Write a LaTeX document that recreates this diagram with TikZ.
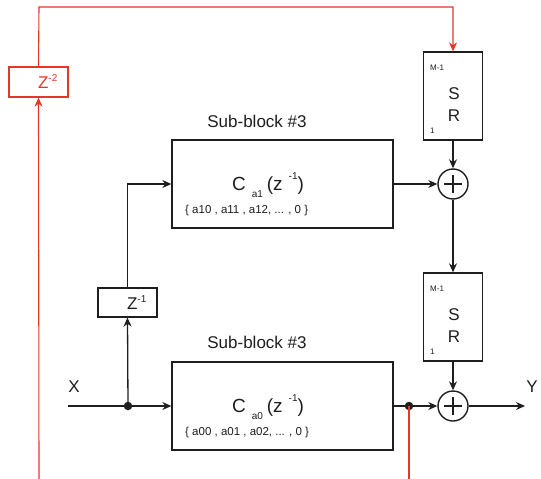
\documentclass[tikz,border=0pt]{standalone}
\usepackage{fontspec}
\setmainfont{Liberation Sans}
\usetikzlibrary{arrows.meta}
\definecolor{fbred}{RGB}{228,54,42}
\definecolor{lineblk}{RGB}{30,30,30}
\tikzset{
  blk/.style={draw=lineblk,line width=1.3pt,rectangle,inner sep=0pt},
  redblk/.style={draw=fbred,line width=1.3pt,rectangle,inner sep=0pt},
  wire/.style={draw=lineblk,line width=1.3pt},
  redwire/.style={draw=fbred,line width=1.1pt},
  arr/.style={-{Stealth[length=9pt,width=8pt]}},
  sumnode/.style={draw=lineblk,line width=1.4pt,circle,minimum size=30pt,inner sep=0pt},
  dotnode/.style={fill=lineblk,circle,minimum size=8.5pt,inner sep=0pt},
  bigtxt/.style={font=\fontsize{17}{19}\selectfont,inner sep=0pt},
  midtxt/.style={font=\fontsize{17}{19}\selectfont,inner sep=0pt},
  smalltxt/.style={font=\fontsize{8}{9}\selectfont,inner sep=0pt,text=lineblk},
  coeftxt/.style={font=\fontsize{11.5}{13}\selectfont,inner sep=0pt,text=lineblk},
  functxt/.style={font=\fontsize{19}{21}\selectfont,inner sep=0pt,text=lineblk},
}
\newcommand{\cfunc}[1]{C\hspace{6pt}\raisebox{-7pt}{\fontsize{10}{10}\selectfont #1}\hspace{4pt}(z\hspace{6pt}\raisebox{11pt}{\fontsize{10}{10}\selectfont -1})}
\begin{document}
\begin{tikzpicture}[x=1pt,y=-1pt]
\useasboundingbox (0,0) rectangle (541,479);
% boxes
\node[redblk,minimum width=59pt,minimum height=30pt] (z2) at (38.5,82) {};
\node[text=fbred,midtxt,anchor=base] (z2t) at (48,88) {Z\textsuperscript{\fontsize{10}{10}\selectfont -2}};
\node[blk,minimum width=59pt,minimum height=29pt] (z1) at (127.5,302.5) {};
\node[text=lineblk,midtxt,anchor=base] (z1t) at (137,309) {Z\textsuperscript{\fontsize{10}{10}\selectfont -1}};

\node[blk,minimum width=221pt,minimum height=88pt] (c1) at (282.5,184) {};
\node[blk,minimum width=221pt,minimum height=88pt] (c0) at (282.5,406) {};
\node[functxt,anchor=base] (c1t) at (268,190) {\cfunc{a1}};
\node[functxt,anchor=base] (c0t) at (268,412) {\cfunc{a0}};
\node[coeftxt,anchor=base west] (c1c) at (185,213) {\{ a10 , a11 , a12, ... , 0 \}};
\node[coeftxt,anchor=base west] (c0c) at (185,435) {\{ a00 , a01 , a02, ... , 0 \}};
\node[bigtxt,anchor=base,text=lineblk] (sb1) at (257,127) {Sub-block \#3};
\node[bigtxt,anchor=base,text=lineblk] (sb0) at (257,348) {Sub-block \#3};

% SR boxes
\node[blk,minimum width=59pt,minimum height=88pt] (sr1) at (453,96) {};
\node[blk,minimum width=59pt,minimum height=88pt] (sr0) at (453,317) {};
\foreach \s/\yy in {sr1/96, sr0/317} {
  \node[smalltxt,anchor=base west] (\s m) at (430,\yy-26) {M-1};
  \node[midtxt,anchor=base,text=lineblk] (\s s) at (454,\yy+3) {S};
  \node[midtxt,anchor=base,text=lineblk] (\s r) at (454,\yy+25) {R};
  \node[smalltxt,anchor=base west] (\s o) at (430,\yy+37) {1};
}

% sums
\node[sumnode] (s1) at (453,184) {};
\draw[line width=1.4pt,lineblk] (s1.center) ++(-9,0) -- ++(18,0) (s1.center) ++(0,-9) -- ++(0,18);
\node[sumnode] (s0) at (453,406) {};
\draw[line width=1.4pt,lineblk] (s0.center) ++(-9,0) -- ++(18,0) (s0.center) ++(0,-9) -- ++(0,18);

% dots
\node[dotnode] (d0) at (128,406) {};
\node[dotnode] (d1) at (409,406) {};

% labels
\node[midtxt,text=lineblk,anchor=base] (xl) at (74,392) {X};
\node[midtxt,text=lineblk,anchor=base] (yl) at (532,392) {Y};

% coordinates
\coordinate (xin) at (68,406);
\coordinate (yout) at (525,406);
\coordinate (rb0) at (39,479);
\coordinate (rb1) at (409,479);
\coordinate (rt0) at (39,7);
\coordinate (rt1) at (453,7);

% black wires
\draw[wire] (xin) -- (d0.center);
\draw[wire,arr] (d0.center) -- (c0.west);
\draw[wire,arr] (d0.center) -- (z1.south);
\draw[wire,arr] (z1.north) |- (c1.west);
\draw[wire,arr] (c1.east) -- (s1.west);
\draw[wire,arr] (sr1.south) -- (s1.north);
\draw[wire,arr] (s1.south) -- (sr0.north);
\draw[wire,arr] (sr0.south) -- (s0.north);
\draw[wire] (c0.east) -- (d1.center);
\draw[wire,arr] (d1.center) -- (s0.west);
\draw[wire,arr] (s0.east) -- (yout);

% red wires
\draw[redwire,arr] (rb0) -- (z2.south);
\draw[redwire,arr] (z2.north) -- (rt0) -- (rt1) -- (sr1.north);
\draw[redwire] (d1.center) -- (rb1);
\end{tikzpicture}
\end{document}
